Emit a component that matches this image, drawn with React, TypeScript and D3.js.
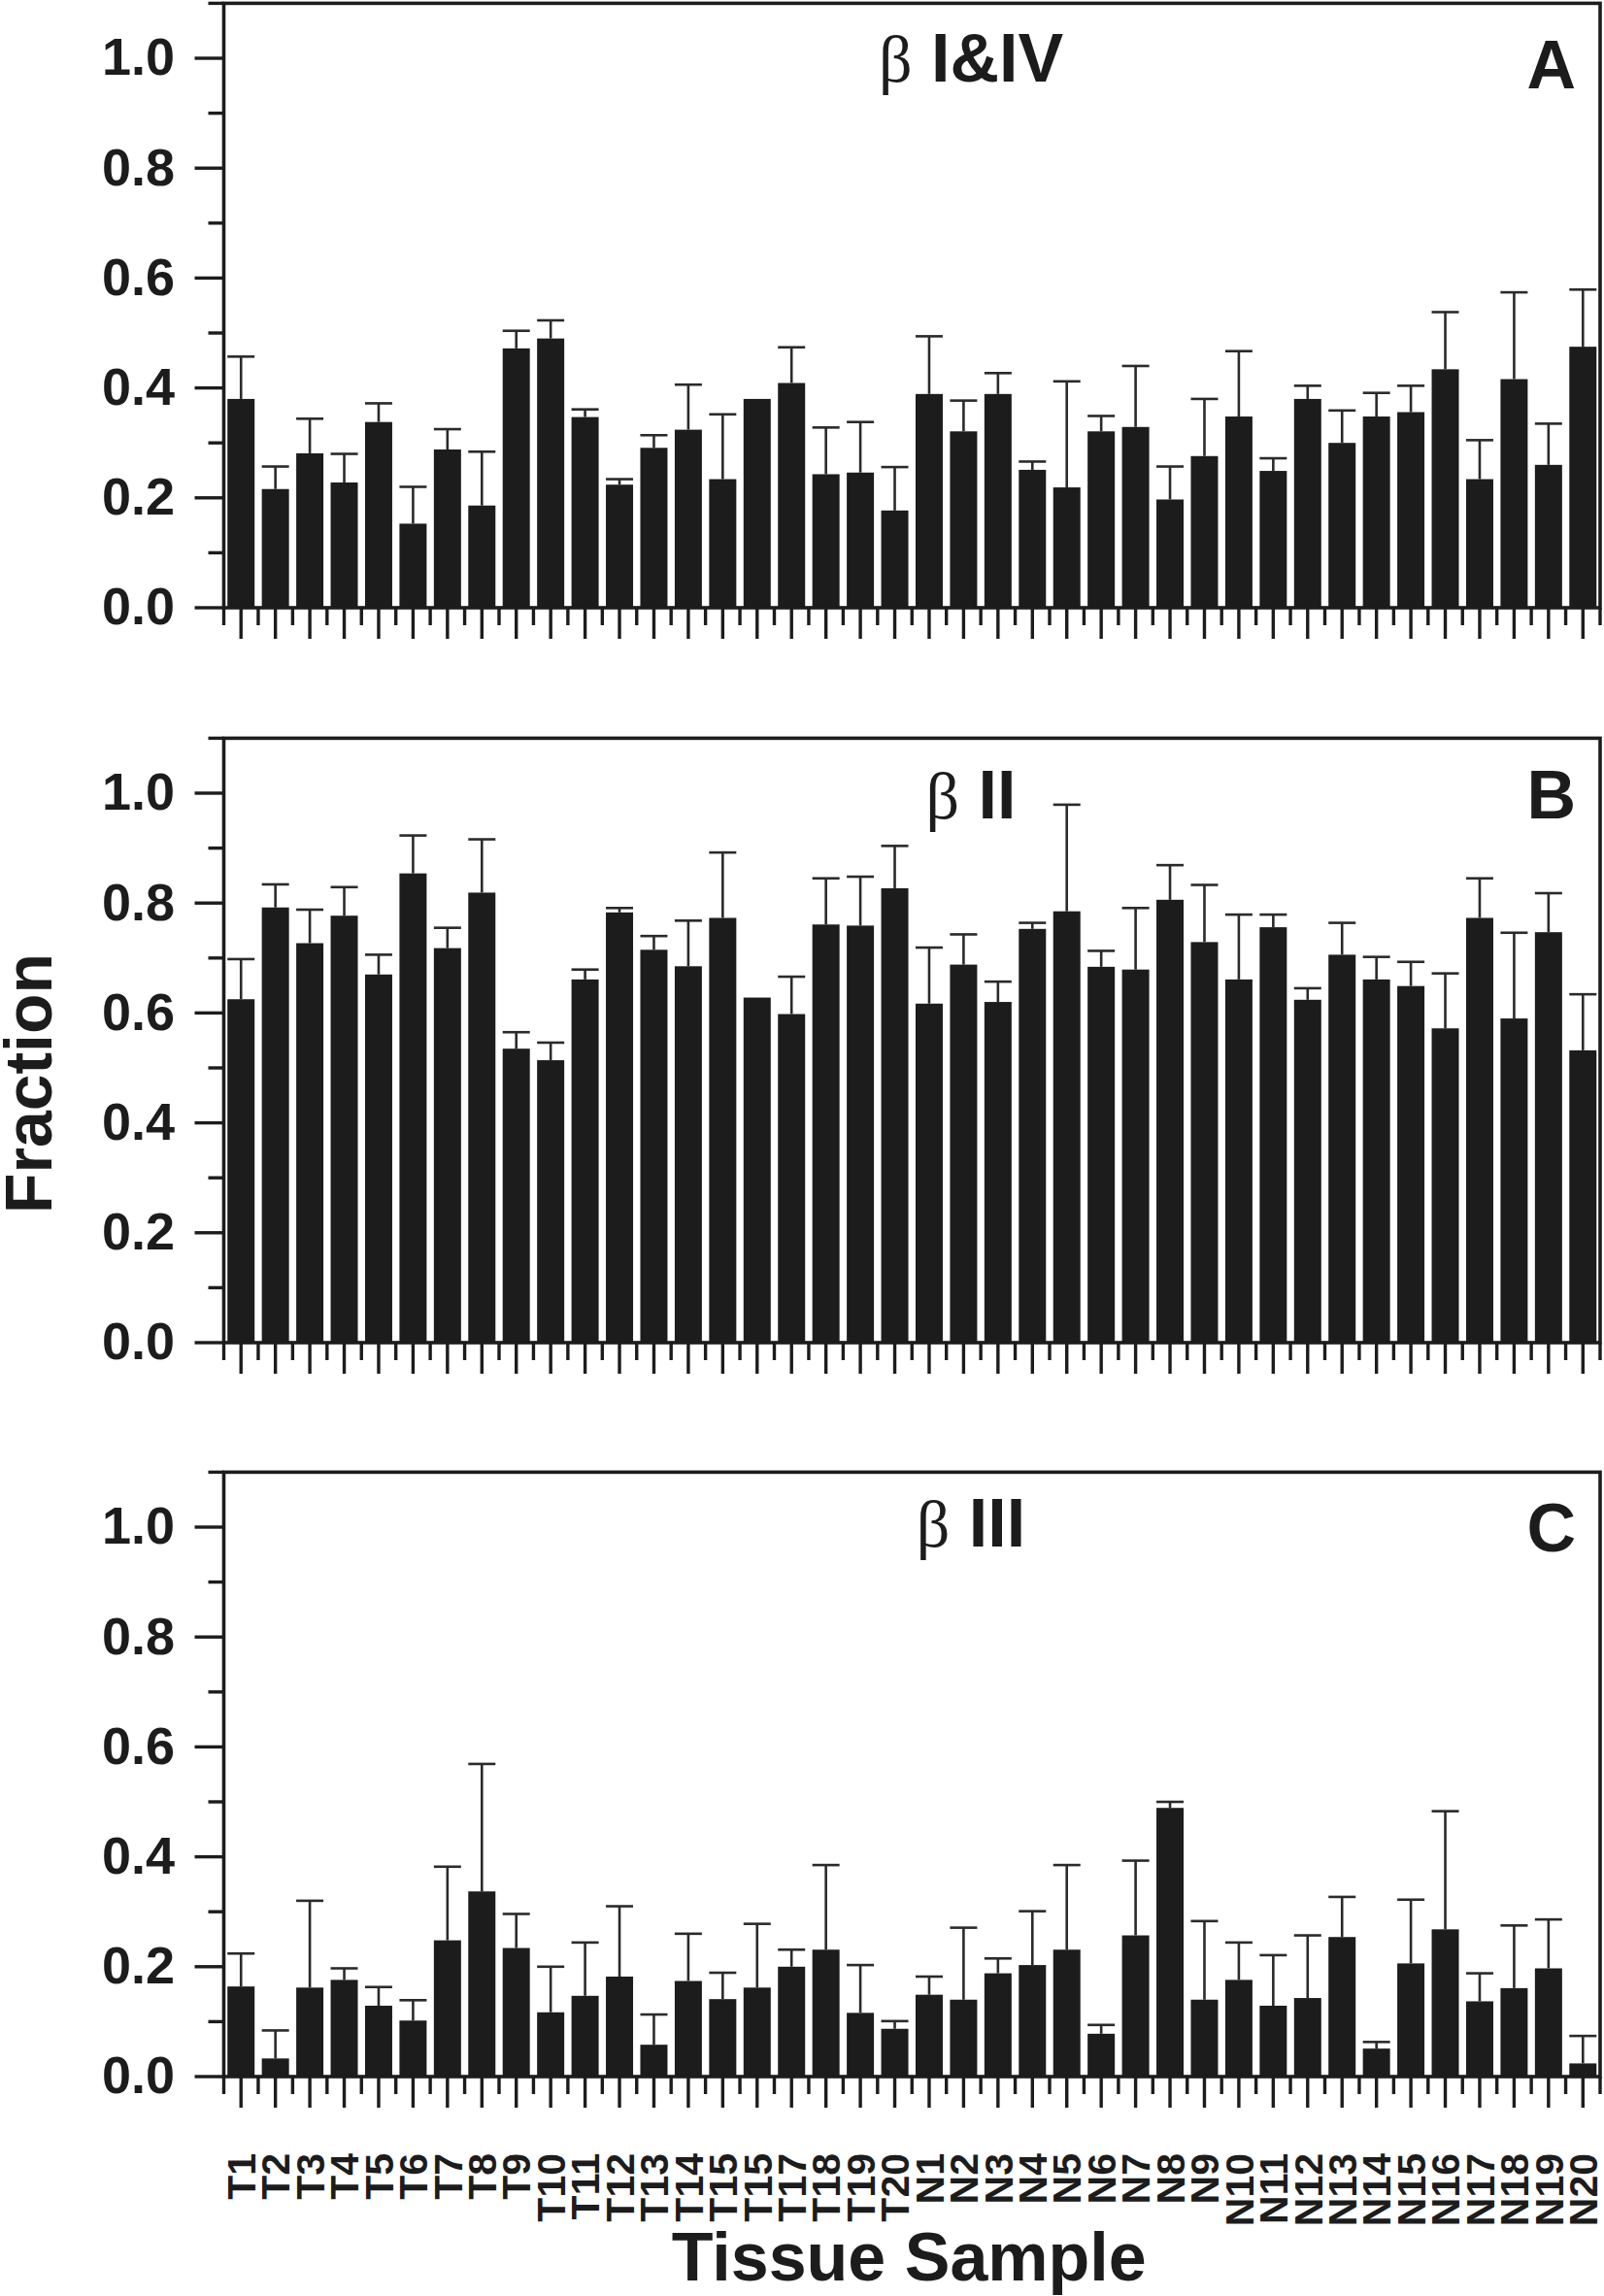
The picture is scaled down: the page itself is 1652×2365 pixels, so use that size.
import React from "react";
import * as d3 from "d3";

// ---- Data ----
const sampleLabels: string[] = [
  "T1", "T2", "T3", "T4", "T5", "T6", "T7", "T8", "T9", "T10",
  "T11", "T12", "T13", "T14", "T15", "T15", "T17", "T18", "T19", "T20",
  "N1", "N2", "N3", "N4", "N5", "N6", "N7", "N8", "N9", "N10",
  "N11", "N12", "N13", "N14", "N15", "N16", "N17", "N18", "N19", "N20",
];

const betaIandIV: number[] = [
  0.380, 0.216, 0.281, 0.228, 0.338, 0.153, 0.288, 0.186, 0.472, 0.490,
  0.347, 0.224, 0.291, 0.324, 0.234, 0.380, 0.409, 0.243, 0.246, 0.177,
  0.389, 0.321, 0.389, 0.251, 0.219, 0.321, 0.329, 0.197, 0.276, 0.348,
  0.249, 0.380, 0.300, 0.348, 0.356, 0.434, 0.234, 0.416, 0.260, 0.475,
];
const betaIandIVErr: number[] = [
  0.077, 0.041, 0.063, 0.052, 0.034, 0.067, 0.037, 0.098, 0.032, 0.033,
  0.014, 0.010, 0.023, 0.082, 0.118, 0.000, 0.065, 0.085, 0.092, 0.079,
  0.105, 0.056, 0.038, 0.015, 0.193, 0.028, 0.111, 0.060, 0.104, 0.119,
  0.023, 0.024, 0.059, 0.043, 0.048, 0.104, 0.071, 0.158, 0.075, 0.104,
];

const betaII: number[] = [
  0.625, 0.792, 0.727, 0.777, 0.670, 0.854, 0.718, 0.819, 0.535, 0.514,
  0.661, 0.783, 0.715, 0.685, 0.773, 0.628, 0.598, 0.761, 0.759, 0.827,
  0.617, 0.688, 0.620, 0.753, 0.785, 0.684, 0.679, 0.806, 0.729, 0.661,
  0.756, 0.624, 0.706, 0.661, 0.649, 0.572, 0.773, 0.590, 0.747, 0.532,
];
const betaIIErr: number[] = [
  0.073, 0.042, 0.061, 0.052, 0.036, 0.069, 0.037, 0.097, 0.030, 0.032,
  0.018, 0.008, 0.025, 0.083, 0.119, 0.000, 0.068, 0.084, 0.089, 0.077,
  0.102, 0.055, 0.037, 0.011, 0.194, 0.029, 0.112, 0.063, 0.104, 0.118,
  0.023, 0.021, 0.058, 0.041, 0.044, 0.100, 0.072, 0.156, 0.071, 0.102,
];

const betaIII: number[] = [
  0.164, 0.033, 0.162, 0.176, 0.129, 0.102, 0.248, 0.337, 0.234, 0.117,
  0.147, 0.182, 0.058, 0.174, 0.141, 0.162, 0.200, 0.231, 0.116, 0.087,
  0.149, 0.140, 0.188, 0.203, 0.231, 0.078, 0.257, 0.489, 0.140, 0.176,
  0.129, 0.143, 0.254, 0.051, 0.206, 0.268, 0.137, 0.161, 0.197, 0.024,
];
const betaIIIErr: number[] = [
  0.060, 0.051, 0.158, 0.021, 0.034, 0.037, 0.134, 0.232, 0.062, 0.083,
  0.097, 0.128, 0.055, 0.086, 0.048, 0.116, 0.031, 0.154, 0.087, 0.014,
  0.033, 0.131, 0.027, 0.098, 0.154, 0.016, 0.136, 0.011, 0.143, 0.068,
  0.092, 0.114, 0.073, 0.012, 0.116, 0.215, 0.051, 0.114, 0.089, 0.050,
];

const majorTicks: number[] = [0.0, 0.2, 0.4, 0.6, 0.8, 1.0];
const minorTicks: number[] = [0.1, 0.3, 0.5, 0.7, 0.9, 1.1];
const panelTitles: string[] = ["I&IV", "II", "III"];
const panelLetters: string[] = ["A", "B", "C"];
const yAxisTitle = "Fraction";
const xAxisTitle = "Tissue Sample";

// ---- Layout ----
const W = 1652;
const H = 2365;
const plotLeft = 230.5;
const plotRight = 1648;
const panelBaselines = [626, 1383, 2139];
const unitPx = 566;
const yMax = 1.1;
const titleBaselineOffsets = [81, 82.5, 77];
const letterBaselineOffsets = [87.5, 82.5, 81.5];
const INK = "#1c1c1c";
const FONT = "'Liberation Sans', Arial, Helvetica, sans-serif";

const panels = [
  { values: betaIandIV, errs: betaIandIVErr },
  { values: betaII, errs: betaIIErr },
  { values: betaIII, errs: betaIIIErr },
];

const indices = sampleLabels.map((_, i) => i);
const x = d3
  .scaleBand<number>()
  .domain(indices)
  .range([plotLeft, plotRight])
  .paddingInner(0.21)
  .paddingOuter(0.105);
const step = x.step();
const bw = x.bandwidth();
const cx = (i: number) => (x(i) as number) + bw / 2;

function Panel({ p }: { p: number }) {
  const base = panelBaselines[p];
  const y = d3.scaleLinear().domain([0, yMax]).range([base, base - yMax * unitPx]);
  const top = y(yMax);
  const { values, errs } = panels[p];
  const boundaries = d3.range(sampleLabels.length + 1).map((k) => plotLeft + k * step);
  return (
    <g>
      {/* bars */}
      {values.map((v, i) => (
        <rect key={"b" + i} x={x(i)} y={y(v)} width={bw} height={base - y(v)} fill={INK} />
      ))}
      {/* error bars */}
      {values.map((v, i) =>
        errs[i] > 0 ? (
          <g key={"e" + i} stroke="#2a2a2a" strokeWidth={2.6}>
            <line x1={cx(i)} x2={cx(i)} y1={y(v)} y2={y(v + errs[i])} />
            <line x1={cx(i) - bw / 2} x2={cx(i) + bw / 2} y1={y(v + errs[i])} y2={y(v + errs[i])} />
          </g>
        ) : null
      )}
      {/* frame */}
      <rect x={plotLeft} y={top} width={plotRight - plotLeft} height={base - top} fill="none" stroke={INK} strokeWidth={3.6} />
      {/* y ticks */}
      {majorTicks.map((t) => (
        <line key={"M" + t} x1={plotLeft - 30} x2={plotLeft} y1={y(t)} y2={y(t)} stroke={INK} strokeWidth={3.4} />
      ))}
      {minorTicks.map((t) => (
        <line key={"m" + t} x1={plotLeft - 16} x2={plotLeft} y1={y(t)} y2={y(t)} stroke={INK} strokeWidth={3.4} />
      ))}
      {majorTicks.map((t) => (
        <text
          key={"L" + t}
          x={180}
          y={y(t) - 2}
          dy="0.36em"
          textAnchor="end"
          fontFamily={FONT}
          fontWeight="bold"
          fontSize={54}
          fill={INK}
        >
          {t.toFixed(1)}
        </text>
      ))}
      {/* x ticks */}
      {indices.map((i) => (
        <line key={"xt" + i} x1={cx(i)} x2={cx(i)} y1={base} y2={base + 32} stroke={INK} strokeWidth={3.4} />
      ))}
      {boundaries.map((bx, k) => (
        <line key={"xm" + k} x1={bx} x2={bx} y1={base} y2={base + 18} stroke={INK} strokeWidth={3.4} />
      ))}
      {/* title */}
      <text x={1000} y={top + titleBaselineOffsets[p]} textAnchor="middle" fill={INK}>
        <tspan fontFamily="'Liberation Serif', 'Times New Roman', serif" fontSize={68}>
          β
        </tspan>
        <tspan fontFamily={FONT} fontWeight="bold" fontSize={70}>
          {" " + panelTitles[p]}
        </tspan>
      </text>
      <text
        x={1623}
        y={top + letterBaselineOffsets[p]}
        textAnchor="end"
        fontFamily={FONT}
        fontWeight="bold"
        fontSize={70}
        fill={INK}
      >
        {panelLetters[p]}
      </text>
    </g>
  );
}

export default function App() {
  const lastBase = panelBaselines[2];
  return (
    <svg
      width={W}
      height={H}
      viewBox={`0 0 ${W} ${H}`}
      style={{ position: "absolute", left: 0, top: 0, background: "#fff" }}
    >
      <rect x={0} y={0} width={W} height={H} fill="#fff" />
      {[0, 1, 2].map((p) => (
        <Panel key={p} p={p} />
      ))}
      {/* x tick labels */}
      {sampleLabels.map((lab, i) => (
        <text
          key={"xl" + i}
          transform={`translate(${cx(i)},${lastBase + 79}) rotate(-90)`}
          dy="0.36em"
          textAnchor="end"
          fontFamily={FONT}
          fontWeight="bold"
          fontSize={41}
          fill={INK}
        >
          {lab}
        </text>
      ))}
      {/* axis titles */}
      <text
        transform={`translate(53,1116) rotate(-90)`}
        textAnchor="middle"
        fontFamily={FONT}
        fontWeight="bold"
        fontSize={69}
        textLength={268}
        lengthAdjust="spacingAndGlyphs"
        fill={INK}
      >
        {yAxisTitle}
      </text>
      <text
        x={(plotLeft + plotRight) / 2 - 3}
        y={2349}
        textAnchor="middle"
        fontFamily={FONT}
        fontWeight="bold"
        fontSize={70}
        textLength={489}
        lengthAdjust="spacingAndGlyphs"
        fill={INK}
      >
        {xAxisTitle}
      </text>
    </svg>
  );
}
